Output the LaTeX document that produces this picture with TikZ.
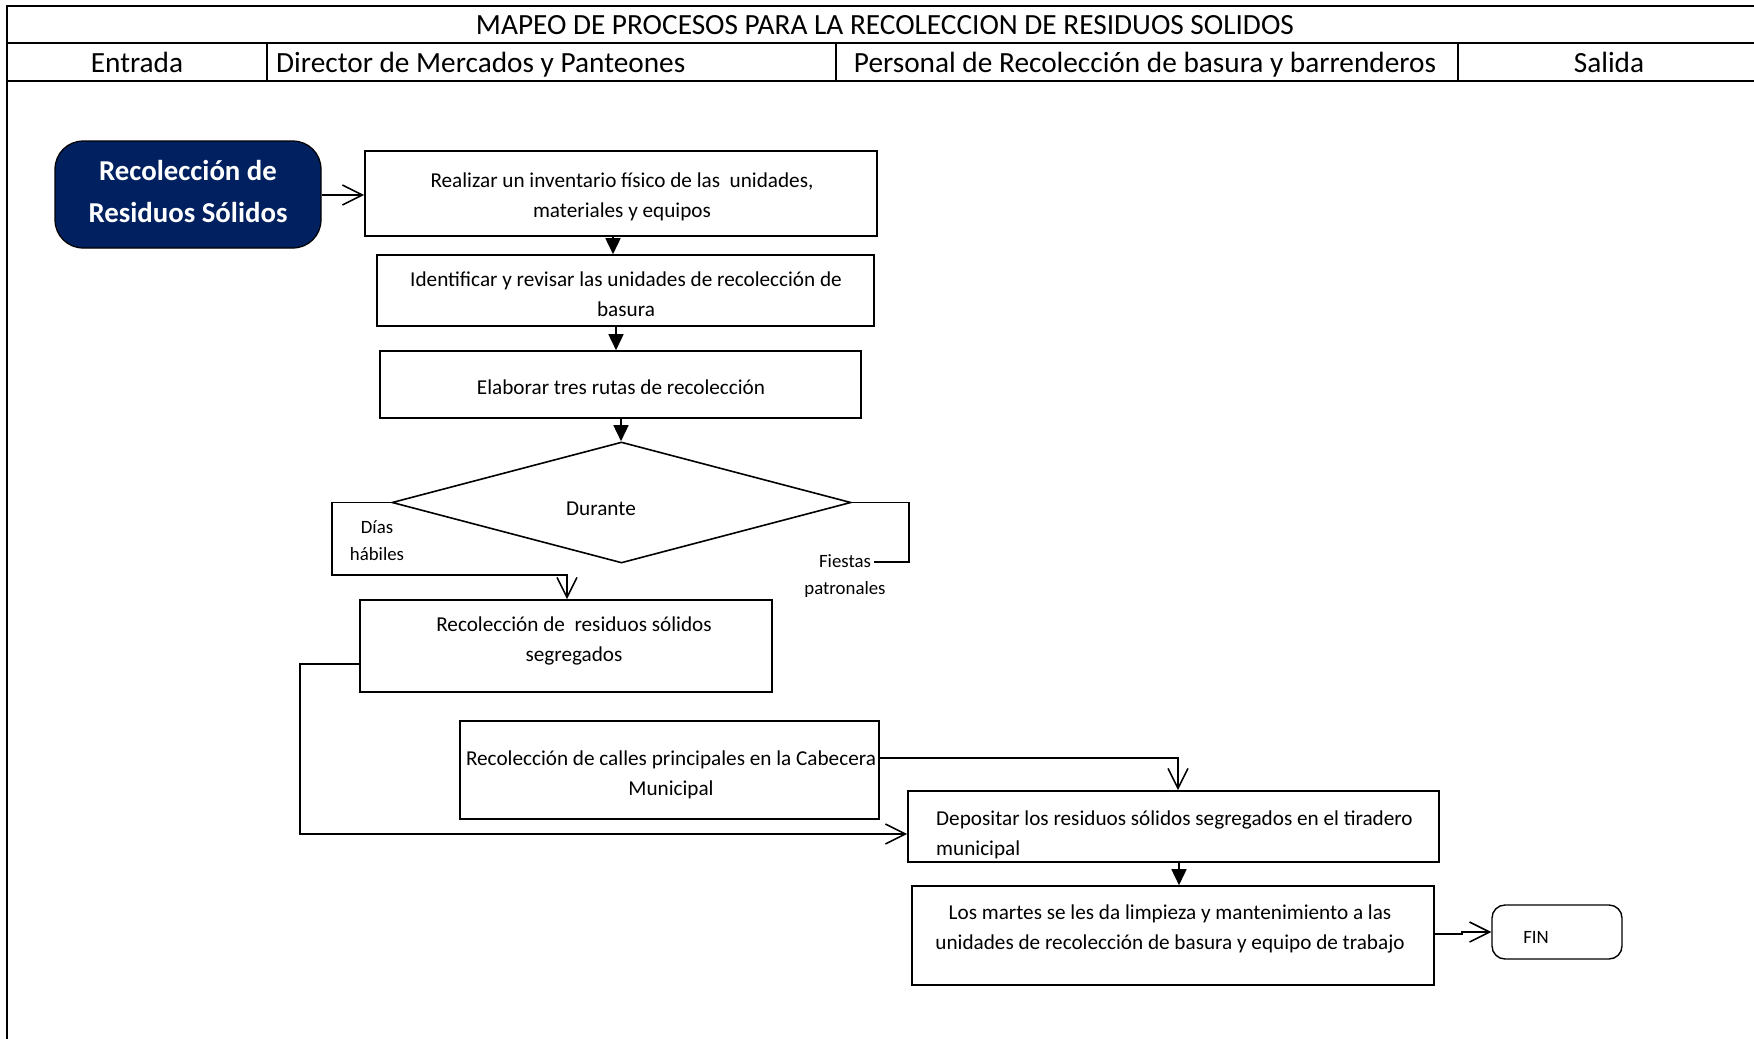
\documentclass[tikz,border=0pt]{standalone}
\usepackage{fontspec}
\setmainfont{Carlito}
\usetikzlibrary{arrows.meta,shapes.geometric}
\definecolor{navy}{HTML}{002060}
\begin{document}
\begin{tikzpicture}[x=1pt,y=-1pt,
  frame/.style={line width=2.4pt},
  hdr/.style={font=\fontsize{29.3}{35}\selectfont, inner sep=0pt, text depth=0pt},
  stepbox/.style={draw, line width=1.6pt, rectangle, inner sep=0pt},
  txt/.style={inner sep=0pt, align=center, font=\fontsize{21.2}{30.5}\selectfont},
  small/.style={inner sep=0pt, align=center, font=\fontsize{18.8}{27}\selectfont},
  link/.style={line width=1.6pt},
  openarr/.style={link, -{Straight Barb[length=20pt,width=20pt,line width=1.6pt]}},
  fillarr/.style={link, -{Triangle[length=16pt,width=15pt]}}]
\useasboundingbox (0,0) rectangle (1754,1039);

% table frame and lane headers
\draw[frame] (1754,6) -- (7,6) -- (7,1039);
\draw[frame] (7,43) -- (1754,43);
\draw[frame] (7,81) -- (1754,81);
\draw[frame] (267,43) -- (267,81);
\draw[frame] (836,43) -- (836,81);
\draw[frame] (1458,43) -- (1458,81);
\node[hdr] (title) at (885,24.5) {MAPEO DE PROCESOS PARA LA RECOLECCION DE RESIDUOS SOLIDOS};
\node[hdr] (h1) at (137,62) {Entrada};
\node[hdr, anchor=west] (h2) at (276,62) {Director de Mercados y Panteones};
\node[hdr] (h3) at (1145,62) {Personal de Recolección de basura y barrenderos};
\node[hdr] (h4) at (1609,62) {Salida};

% start terminal
\node[draw, line width=1.2pt, fill=navy, rounded corners=28pt,
      minimum width=266pt, minimum height=107pt, inner sep=0pt] (start) at (188,194.5) {};
\node[inner sep=0pt, align=center, text=white,
      font=\bfseries\fontsize{28.8}{42}\selectfont] (startt) at (188,191)
      {Recolección de\\Residuos Sólidos};

% process steps
\node[stepbox, minimum width=512pt, minimum height=85pt] (b1) at (621,193.5) {};
\node[txt] (b1t) at (622,197)
  {Realizar un inventario físico de las \ unidades,\\materiales y equipos};
\node[stepbox, minimum width=497pt, minimum height=71pt] (b2) at (625.5,290.5) {};
\node[txt] (b2t) at (626,294)
  {Identificar y revisar las unidades de recolección de\\basura};
\node[stepbox, minimum width=481pt, minimum height=67pt] (b3) at (620.5,384.5) {};
\node[txt] (b3t) at (621,387) {Elaborar tres rutas de recolección};

% decision
\node[draw, line width=1.6pt, diamond, minimum width=459pt, minimum height=121pt,
      inner sep=0pt] (dia) at (621.5,502.5) {};
\node[txt] (durante) at (601,509) {Durante};
\node[small] (habiles) at (377,541) {Días\\hábiles};
\node[small] (fiestas) at (845,576) {Fiestas\\patronales};
\coordinate (fend) at (874,562);

\node[stepbox, minimum width=412pt, minimum height=92pt] (b4) at (566,646) {};
\node[txt] (b4t) at (574,641) {Recolección de \ residuos sólidos\\segregados};

\node[stepbox, minimum width=419pt, minimum height=98pt] (b5) at (669.5,770) {};
\node[txt] (b5t) at (671,775)
  {Recolección de calles principales en la Cabecera\\Municipal};

\node[stepbox, minimum width=531pt, minimum height=71pt] (b6) at (1173.5,826.5) {};
\node[txt, align=left, anchor=west] (b6t) at (936,835)
  {Depositar los residuos sólidos segregados en el tiradero\\municipal};

\node[stepbox, minimum width=522pt, minimum height=99pt] (b7) at (1173,935.5) {};
\node[txt] (b7t) at (1170,929)
  {Los martes se les da limpieza y mantenimiento a las\\unidades de recolección de basura y equipo de trabajo};

\node[draw, line width=1.4pt, rounded corners=13pt, minimum width=130pt,
      minimum height=54pt] (fin) at (1557,932) {};
\node[small] (fint) at (1536,937) {FIN};

% connectors
\draw[openarr] (start.east |- 0,195) -- (b1.west |- 0,195);
\draw[fillarr] (613,0 |- b1.south) -- (613,0 |- b2.north);
\draw[fillarr] (616,0 |- b2.south) -- (616,0 |- b3.north);
\draw[fillarr] (621,0 |- b3.south) -- (621,0 |- dia.north);
\draw[openarr] (dia.west) -- (332,502.5) -- (332,575) -- (567,575) -- (567,0 |- b4.north);
\draw[link] (dia.east) -- (909,502.5) -- (909,562) -- (fend);
\draw[openarr] (b4.west |- 0,664) -- (300,664) -- (300,834) -- (b6.west |- 0,834);
\draw[openarr] (b5.east |- 0,758) -- (1178,758) -- (1178,0 |- b6.north);
\draw[fillarr] (1179,0 |- b6.south) -- (1179,0 |- b7.north);
\draw[openarr] (b7.east |- 0,934) -- (1462,934) -- (1462,932) -- (fin.west |- 0,932);
\end{tikzpicture}
\end{document}
